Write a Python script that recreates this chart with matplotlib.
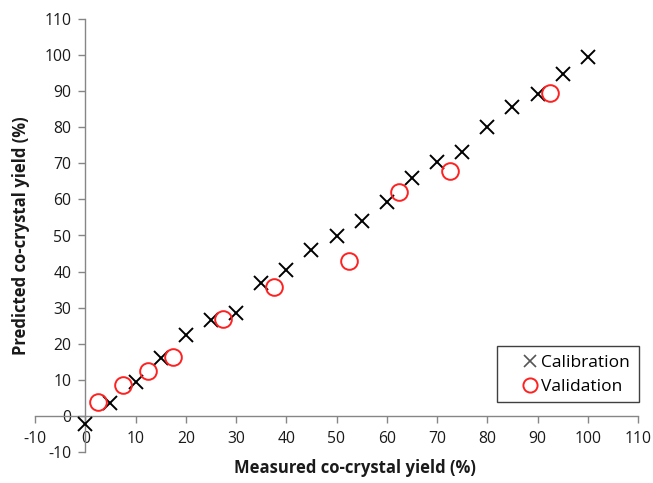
import matplotlib
matplotlib.use("Agg")
import matplotlib.pyplot as plt
from matplotlib.patches import Rectangle

plt.rcParams['font.family'] = ['Open Sans', 'DejaVu Sans']
plt.rcParams['axes.unicode_minus'] = False

cal_x = [0, 5, 10, 15, 20, 25, 30, 35, 40, 45, 50, 55, 60, 65, 70, 75, 80, 85, 90, 95, 100]
cal_y = [-2.3, 3.4, 9.3, 16.0, 22.4, 26.6, 28.6, 36.9, 40.4, 46.0, 49.9, 54.1, 59.4, 65.9,
         70.5, 73.3, 80.0, 85.7, 89.2, 94.8, 99.4]
val_x = [2.5, 7.5, 12.5, 17.5, 27.5, 37.5, 52.5, 62.5, 72.5, 92.5]
val_y = [3.7, 8.4, 12.5, 16.4, 26.7, 35.8, 43.0, 62.2, 68.0, 89.5]
ticks = list(range(-10, 111, 10))

W, H = 653, 483
fig = plt.figure(figsize=(W / 100, H / 100), dpi=100)
x0, x1 = 35, 638
ytop, ybot = 19.3, 451.7
ax = fig.add_axes([x0 / W, 1 - ybot / H, (x1 - x0) / W, (ybot - ytop) / H])

ax.plot(cal_x, cal_y, linestyle='none', marker='x', markersize=10, markeredgewidth=1.4,
        color='black', label='Calibration', clip_on=False, zorder=3)
ax.plot(val_x, val_y, linestyle='none', marker='o', markersize=12, markeredgewidth=1.4,
        markerfacecolor='none', markeredgecolor='#ff2020', label='Validation', clip_on=False, zorder=4)

ax.set_xlim(-10, 110)
ax.set_ylim(-10, 110)
ax.set_xticks(ticks)
ax.set_yticks(ticks)

for s in ['top', 'right']:
    ax.spines[s].set_visible(False)
for s in ['left', 'bottom']:
    ax.spines[s].set_position(('data', 0))
    ax.spines[s].set_color('#868686')
    ax.spines[s].set_linewidth(1.0)

ax.tick_params(axis='both', direction='out', length=5, width=1.0, color='#868686',
               labelsize=11.3, labelcolor='#1a1a1a')
ax.tick_params(axis='x', pad=6)
ax.tick_params(axis='y', pad=5)

fig.text(355 / W, 1 - 468 / H, 'Measured co-crystal yield (%)', ha='center', va='center',
         fontsize=12, fontweight='bold', color='#1a1a1a')
fig.text(21 / W, 1 - 236 / H, 'Predicted co-crystal yield (%)', ha='center', va='center',
         rotation=90, fontsize=12, fontweight='bold', color='#1a1a1a')

# legend frame (Excel-style, asymmetric padding)
frame = Rectangle((497 / W, 1 - 402 / H), (639 - 497) / W, (402 - 346) / H,
                  transform=fig.transFigure, facecolor='white', edgecolor='#404040',
                  linewidth=1.0, zorder=4.5, clip_on=False)
ax.add_artist(frame)
leg = ax.legend(loc='upper left', bbox_to_anchor=(514.5 / W, 1 - 346 / H),
                bbox_transform=fig.transFigure, frameon=False,
                fontsize=12.5, handlelength=0.8, handletextpad=0.25, borderpad=0.0,
                labelspacing=0.45, markerscale=0.85)
leg.set_zorder(6)
leg.legend_handles[0].set_color('#555555')
leg.legend_handles[0].set_markeredgewidth(1.2)

fig.savefig('out.png', dpi=100)
